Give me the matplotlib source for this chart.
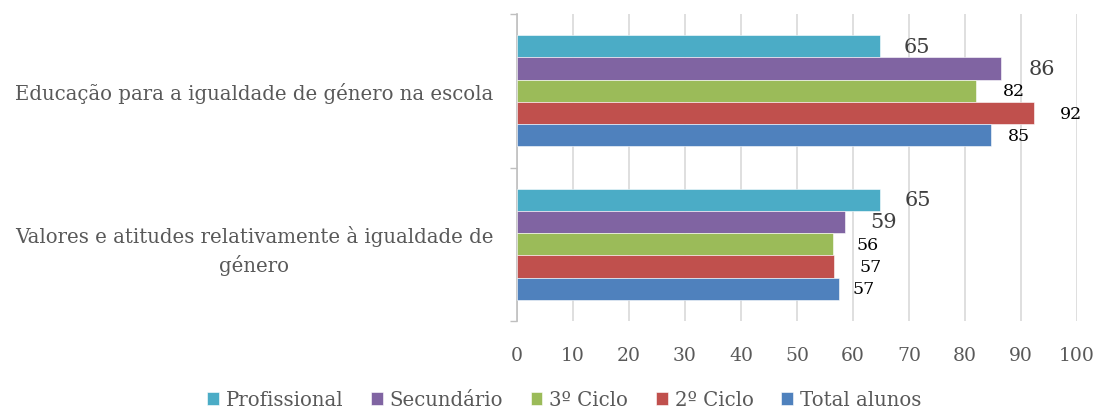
import matplotlib
matplotlib.use('Agg')
import matplotlib.pyplot as plt
import numpy as np

plt.rcParams['font.family'] = ['DejaVu Serif']

categories = ['Educação para a igualdade de género na escola',
              'Valores e atitudes relativamente à igualdade de\ngénero']
series = ['Profissional', 'Secundário', '3º Ciclo', '2º Ciclo', 'Total alunos']
colors = ['#4BACC6', '#8064A2', '#9BBB59', '#C0504D', '#4F81BD']

# values per series, one per category
profissional = [64.8, 64.9]
secundario = [86.4, 58.6]
ciclo3 = [82.0, 56.4]
ciclo2 = [92.3, 56.6]
total = [84.6, 57.5]
label_text = [['65', '65'], ['86', '59'], ['82', '56'], ['92', '57'], ['85', '57']]

values = [profissional, secundario, ciclo3, ciclo2, total]

# label look: the first two series have bigger grey labels in the original
label_style = [('#404040', 15), ('#404040', 15), ('black', 12.5),
               ('black', 12.5), ('black', 12.5)]
label_dx = [[4.3, 4.3], [5.0, 4.4], [4.8, 4.3], [4.7, 4.6], [3.0, 2.5]]

grey = '#595959'

fig = plt.figure(figsize=(10.98, 4.14), dpi=100)
ax = fig.add_axes([517 / 1098, 1 - 322 / 414, 560 / 1098, 307 / 414])

y = np.arange(len(categories))
h = 0.145
for i, (name, vals) in enumerate(zip(series, values)):
    pos = y + (i - 2) * h
    ax.barh(pos, vals, height=h, color=colors[i], edgecolor='white',
            linewidth=0.4, label=name, zorder=3)
    col, fs = label_style[i]
    for j, v in enumerate(vals):
        ax.text(v + label_dx[i][j], pos[j], label_text[i][j], ha='left',
                va='center', color=col, fontsize=fs, zorder=4)

ax.set_xlim(0, 100)
ax.set_ylim(1.5, -0.5)
ax.set_xticks(np.arange(0, 101, 10))
ax.xaxis.grid(True, color='#d9d9d9', linewidth=1.2, zorder=0)
ax.tick_params(axis='x', length=0, labelsize=13.5, labelcolor=grey, pad=18)

ax.set_yticks(y)
ax.set_yticklabels(categories, fontsize=14.2, color=grey, ha='right',
                   multialignment='center', linespacing=1.45)
ax.tick_params(axis='y', length=0, pad=17)
ax.set_yticks([-0.5, 0.5, 1.5], minor=True)
ax.tick_params(axis='y', which='minor', length=5, color='#bfbfbf', width=1)

for s in ['top', 'right', 'bottom']:
    ax.spines[s].set_visible(False)
ax.spines['left'].set_color('#bfbfbf')
ax.spines['left'].set_linewidth(1.2)

handles, labels = ax.get_legend_handles_labels()
fig.legend(handles, labels, loc='center', bbox_to_anchor=(564 / 1098, 1 - 401 / 414),
           ncol=5, frameon=False, fontsize=14.2, labelcolor=grey,
           handlelength=0.6, handleheight=0.6, handletextpad=0.35, columnspacing=1.4)

fig.savefig('out.png', dpi=100)
